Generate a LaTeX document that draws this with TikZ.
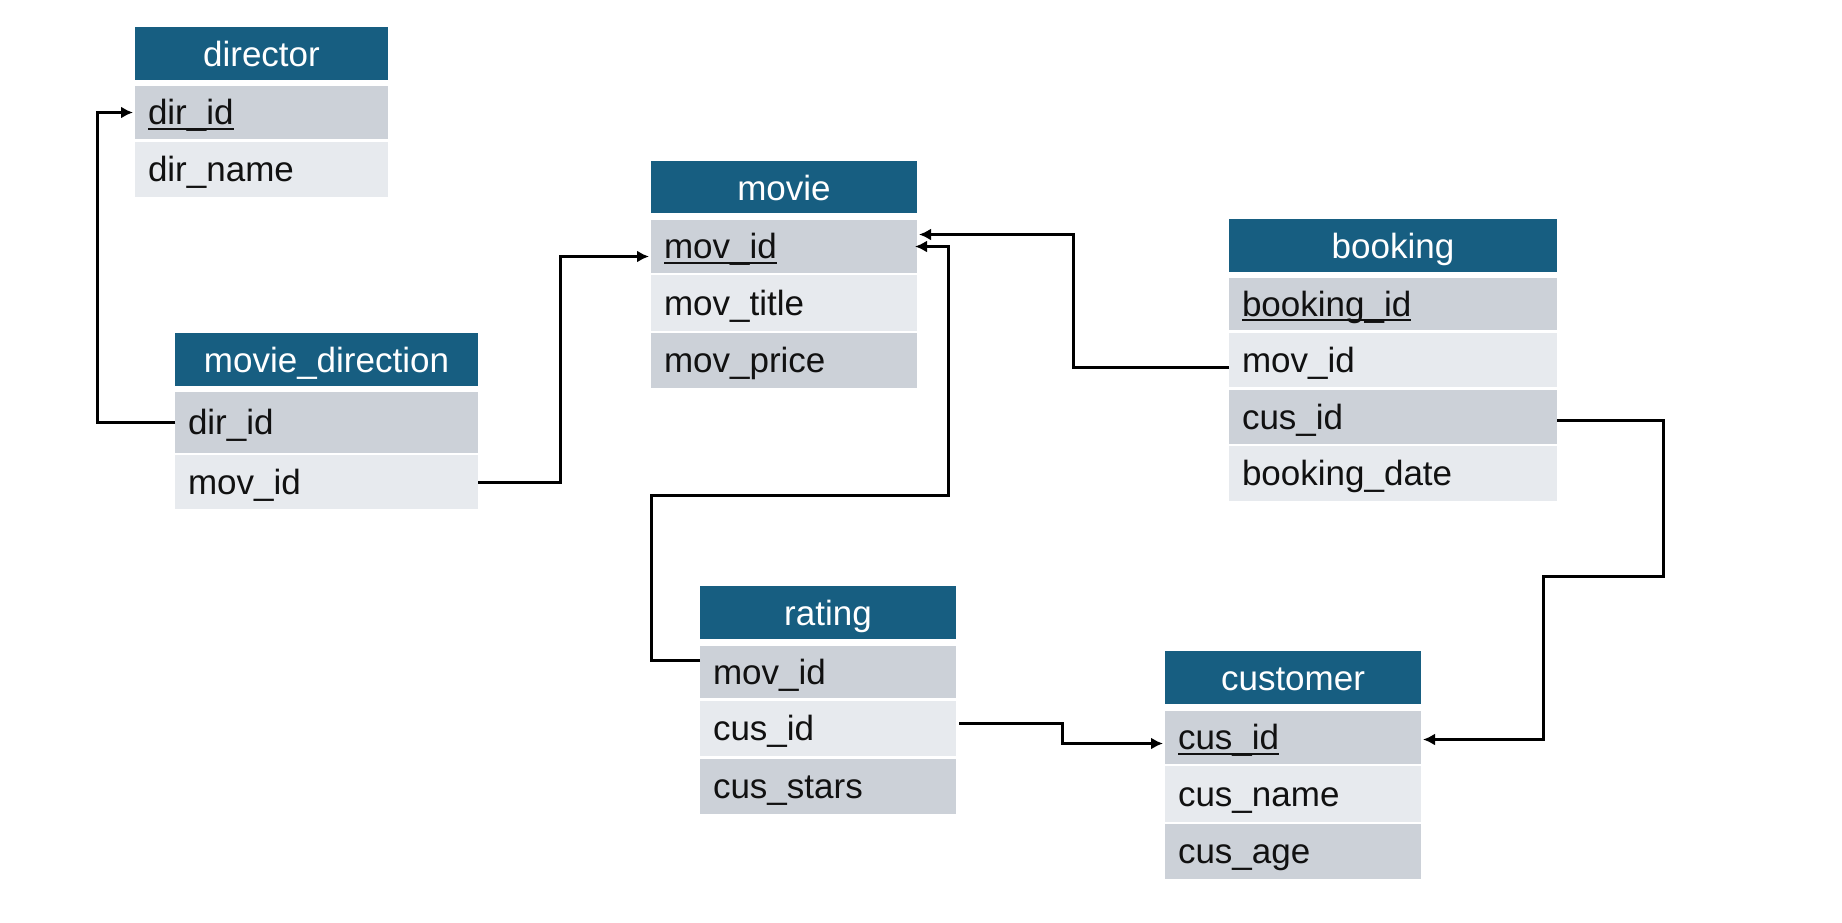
\documentclass[tikz,border=0pt]{standalone}
\usepackage{fontspec}
\setmainfont{Liberation Sans}
\usetikzlibrary{arrows.meta}
\definecolor{hdrblue}{HTML}{175E81}
\definecolor{rowdark}{HTML}{CCD1D8}
\definecolor{rowlight}{HTML}{E7EAEE}
\definecolor{txt}{HTML}{111111}
\newcommand\pkey[1]{\setbox0\hbox{#1}\rlap{\rule[-5pt]{\wd0}{2pt}}\box0}
\begin{document}
\begin{tikzpicture}[x=1pt,y=-1pt,
  tbl/.style={anchor=north west, inner ysep=0pt, inner xsep=13pt, outer sep=0pt,
    text height=25pt, text depth=1pt, font=\fontsize{35pt}{42pt}\selectfont},
  hdr/.style={tbl, fill=hdrblue, text=white, align=center, text height=26pt, text depth=0pt},
  dk/.style={tbl, fill=rowdark, text=txt, align=left},
  lt/.style={tbl, fill=rowlight, text=txt, align=left},
  conn/.style={draw=black, line width=3pt, -{Latex[length=12pt,width=12pt]}}]
\useasboundingbox (0,0) rectangle (1842,922);
% director
\node[hdr, text width=227pt, minimum height=53pt] (dir) at (135,27) {director};
\node[dk, text width=227pt, minimum height=53pt] (dir-id) at (135,86) {\pkey{dir\_id}};
\node[lt, text width=227pt, minimum height=55pt] (dir-name) at (135,142) {dir\_name};
% movie_direction
\node[hdr, text width=277pt, minimum height=53pt] (md) at (175,333) {movie\_direction};
\node[dk, text width=277pt, minimum height=61pt] (md-dir) at (175,392) {dir\_id};
\node[lt, text width=277pt, minimum height=54pt] (md-mov) at (175,455) {mov\_id};
% movie
\node[hdr, text width=240pt, minimum height=52pt] (mv) at (651,161) {movie};
\node[dk, text width=240pt, minimum height=53pt] (mv-id) at (651,220) {\pkey{mov\_id}};
\node[lt, text width=240pt, minimum height=56pt] (mv-title) at (651,275) {mov\_title};
\node[dk, text width=240pt, minimum height=55pt] (mv-price) at (651,333) {mov\_price};
% booking
\node[hdr, text width=302pt, minimum height=53pt] (bk) at (1229,219) {booking};
\node[dk, text width=302pt, minimum height=52pt] (bk-id) at (1229,278) {\pkey{booking\_id}};
\node[lt, text width=302pt, minimum height=54pt] (bk-mov) at (1229,333) {mov\_id};
\node[dk, text width=302pt, minimum height=54pt] (bk-cus) at (1229,390) {cus\_id};
\node[lt, text width=302pt, minimum height=55pt] (bk-date) at (1229,446) {booking\_date};
% rating
\node[hdr, text width=230pt, minimum height=53pt] (rt) at (700,586) {rating};
\node[dk, text width=230pt, minimum height=52pt] (rt-mov) at (700,646) {mov\_id};
\node[lt, text width=230pt, minimum height=55pt] (rt-cus) at (700,701) {cus\_id};
\node[dk, text width=230pt, minimum height=55pt] (rt-stars) at (700,759) {cus\_stars};
% customer
\node[hdr, text width=230pt, minimum height=53pt] (cu) at (1165,651) {customer};
\node[dk, text width=230pt, minimum height=53pt] (cu-id) at (1165,711) {\pkey{cus\_id}};
\node[lt, text width=230pt, minimum height=56pt] (cu-name) at (1165,766) {cus\_name};
\node[dk, text width=230pt, minimum height=55pt] (cu-age) at (1165,824) {cus\_age};
% connectors
\draw[conn] (md-dir.west) -- ++(-78,0) |- ([xshift=-2pt]dir-id.west);
\draw[conn] (md-mov.east) -- ++(82,0) |- ([xshift=-2pt,yshift=-10pt]mv-id.west);
\draw[conn] ([yshift=-7pt]bk-mov.west) -- ++(-156,0) |- ([xshift=2pt,yshift=12pt]mv-id.east);
\draw[conn] ([yshift=12pt]rt-mov.west) -- ++(-49,0) -- ++(0,-165) -- ++(297,0) |- ([xshift=-2pt]mv-id.east);
\draw[conn] ([xshift=3pt,yshift=5pt]rt-cus.east) -- ++(103,0) |- ([xshift=-2pt,yshift=-6pt]cu-id.west);
\draw[conn] ([yshift=-3pt]bk-cus.east) -- ++(106,0) -- ++(0,156) -- ++(-120,0) |- ([xshift=2pt,yshift=-2pt]cu-id.east);
\end{tikzpicture}
\end{document}
